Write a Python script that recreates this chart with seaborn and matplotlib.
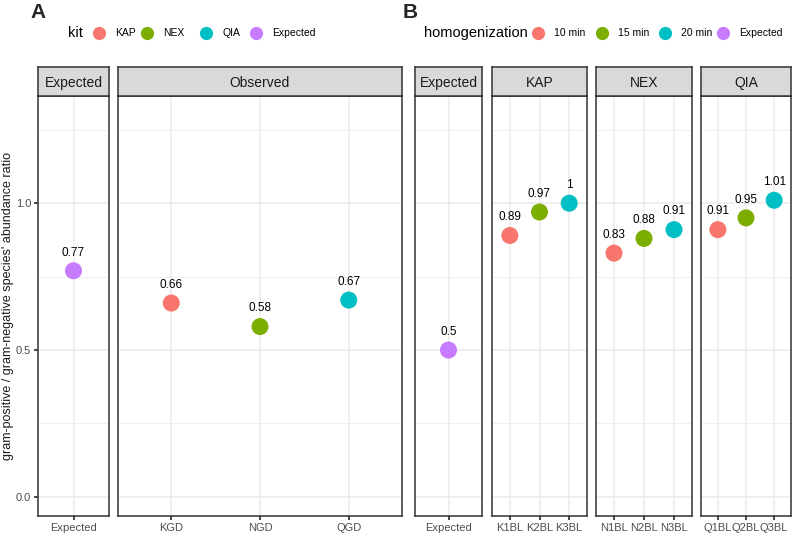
import matplotlib
matplotlib.use("Agg")
import matplotlib.pyplot as plt
import seaborn as sns
import pandas as pd
from matplotlib.lines import Line2D

# panel A data
a_expected_cat = ["Expected"]
a_expected_val = [0.77]
a_obs_cats = ["KGD", "NGD", "QGD"]
a_obs_vals = [0.66, 0.58, 0.67]
a_obs_kit = ["KAP", "NEX", "QIA"]

# panel B data
b_expected_val = [0.5]
b_kits = ["KAP", "NEX", "QIA"]
b_cats = {"KAP": ["K1BL", "K2BL", "K3BL"],
          "NEX": ["N1BL", "N2BL", "N3BL"],
          "QIA": ["Q1BL", "Q2BL", "Q3BL"]}
b_vals = {"KAP": [0.89, 0.97, 1.0],
          "NEX": [0.83, 0.88, 0.91],
          "QIA": [0.91, 0.95, 1.01]}
b_homog = ["10 min", "15 min", "20 min"]

kit_pal = {"KAP": "#F8766D", "NEX": "#7CAE00", "QIA": "#00BFC4", "Expected": "#C77CFF"}
hom_pal = {"10 min": "#F8766D", "15 min": "#7CAE00", "20 min": "#00BFC4", "Expected": "#C77CFF"}

sns.set_theme(style="white")
plt.rcParams["font.family"] = ["Liberation Sans", "DejaVu Sans"]

W, H = 797, 535
fig = plt.figure(figsize=(W / 100, H / 100), dpi=100)

top_px, bot_px = 96, 516
strip_top = 67


def facet(x0, x1, df, hue_col, pal, title, show_y=False):
    ax = fig.add_axes([x0 / W, (H - bot_px) / H, (x1 - x0) / W, (bot_px - top_px) / H])
    sns.scatterplot(data=df, x="sample", y="ratio", hue=hue_col, palette=pal,
                    s=150, edgecolor="none", legend=False, ax=ax, zorder=3)
    n = df["sample"].nunique()
    ax.set_xlim(-0.6, n - 0.4)
    ax.set_ylim(-0.065, 1.365)
    ax.set_yticks([0, 0.5, 1.0])
    ax.set_yticks([0.25, 0.75, 1.25], minor=True)
    ax.grid(True, which="major", color="#EBEBEB", lw=1.1, zorder=0)
    ax.grid(True, which="minor", axis="y", color="#EBEBEB", lw=0.55, zorder=0)
    ax.set_axisbelow(True)
    for sp in ax.spines.values():
        sp.set_color("#333333")
        sp.set_linewidth(1.1)
    ax.set_xlabel("")
    ax.set_ylabel("")
    ax.tick_params(axis="x", length=3, color="#333333", labelsize=8, labelcolor="#4D4D4D", pad=2,
                   bottom=True)
    if show_y:
        ax.set_yticklabels(["0.0", "0.5", "1.0"])
        ax.tick_params(axis="y", length=3, color="#333333", labelsize=8, labelcolor="#4D4D4D",
                       pad=2, left=True)
    else:
        ax.tick_params(axis="y", left=False, labelleft=False)
    ax.tick_params(which="minor", left=False)
    for x, v in zip(range(n), df["ratio"]):
        ax.text(x, v + 0.062, f"{round(v, 2):g}", ha="center", va="center", fontsize=8.5,
                color="black", zorder=4)
    # strip
    sx = fig.add_axes([x0 / W, (H - top_px) / H, (x1 - x0) / W, (top_px - strip_top) / H])
    sx.set_xticks([])
    sx.set_yticks([])
    sx.set_facecolor("#D9D9D9")
    for sp in sx.spines.values():
        sp.set_color("#333333")
        sp.set_linewidth(1.1)
    sx.text(0.5, 0.45, title, ha="center", va="center", fontsize=10, color="#1A1A1A",
            transform=sx.transAxes)
    return ax


# panel A
dfa_e = pd.DataFrame({"sample": a_expected_cat, "ratio": a_expected_val, "kit": ["Expected"]})
dfa_o = pd.DataFrame({"sample": a_obs_cats, "ratio": a_obs_vals, "kit": a_obs_kit})
facet(38, 109, dfa_e, "kit", kit_pal, "Expected", show_y=True)
facet(118, 402, dfa_o, "kit", kit_pal, "Observed")
fig.text(8 / W, 1 - 306 / H, "gram-positive / gram-negative species' abundance ratio",
         rotation=90, ha="center", va="center", fontsize=9, color="#1A1A1A")

# panel B
dfb_e = pd.DataFrame({"sample": ["Expected"], "ratio": b_expected_val, "hom": ["Expected"]})
facet(415, 482, dfb_e, "hom", hom_pal, "Expected")
b_edges = {"KAP": (492, 587), "NEX": (596, 692), "QIA": (701, 791)}
for k in b_kits:
    dfb = pd.DataFrame({"sample": b_cats[k], "ratio": b_vals[k], "hom": b_homog})
    facet(b_edges[k][0], b_edges[k][1], dfb, "hom", hom_pal, k)

# panel tags
fig.text(30 / W, 1 - 13 / H, "A", fontsize=15, fontweight="bold", va="center", ha="left")
fig.text(403 / W, 1 - 13 / H, "B", fontsize=15, fontweight="bold", va="center", ha="left")


def legend(x_title, title, labels, pal, marker_x):
    y = 1 - 33 / H
    fig.text(x_title / W, y, title, fontsize=10.5, va="center", ha="left", color="black")
    for l, mx in zip(labels, marker_x):
        fig.add_artist(Line2D([mx / W], [y], marker="o", ls="", markersize=9.5,
                              markerfacecolor=pal[l], markeredgecolor="none",
                              transform=fig.transFigure))
        fig.text((mx + 16) / W, y, l, fontsize=7.5, va="center", ha="left", color="black")


legend(68, "kit", ["KAP", "NEX", "QIA", "Expected"], kit_pal, [99, 147, 206, 256])
legend(424, "homogenization", ["10 min", "15 min", "20 min", "Expected"], hom_pal,
       [538, 602, 665, 723])

fig.savefig("out.png", dpi=100)
